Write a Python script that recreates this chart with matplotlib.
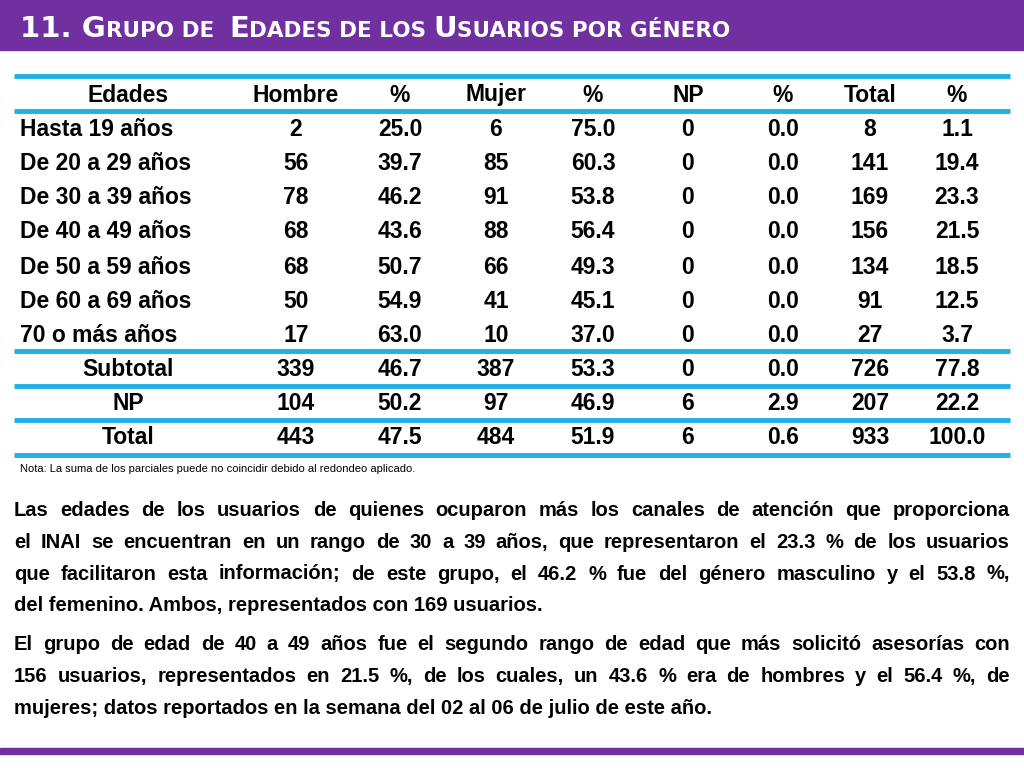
import matplotlib
matplotlib.use("Agg")
import matplotlib.pyplot as plt
from matplotlib import font_manager as fm

names = {f.name for f in fm.fontManager.ttflist}
FONT = "Liberation Sans Narrow" if "Liberation Sans Narrow" in names else "Liberation Sans"

headers = ["Edades", "Hombre", "%", "Mujer", "%", "NP", "%", "Total", "%"]
age_groups = ["Hasta 19 años", "De 20 a 29 años", "De 30 a 39 años", "De 40 a 49 años",
              "De 50 a 59 años", "De 60 a 69 años", "70 o más años"]
summary_rows = ["Subtotal", "NP", "Total"]
hombre = [2, 56, 78, 68, 68, 50, 17, 339, 104, 443]
hombre_pct = [25.0, 39.7, 46.2, 43.6, 50.7, 54.9, 63.0, 46.7, 50.2, 47.5]
mujer = [6, 85, 91, 88, 66, 41, 10, 387, 97, 484]
mujer_pct = [75.0, 60.3, 53.8, 56.4, 49.3, 45.1, 37.0, 53.3, 46.9, 51.9]
np_n = [0, 0, 0, 0, 0, 0, 0, 0, 6, 6]
np_pct = [0.0, 0.0, 0.0, 0.0, 0.0, 0.0, 0.0, 0.0, 2.9, 0.6]
total = [8, 141, 169, 156, 134, 91, 27, 726, 207, 933]
total_pct = [1.1, 19.4, 23.3, 21.5, 18.5, 12.5, 3.7, 77.8, 22.2, 100.0]

W, H = 1024, 768
fig = plt.figure(figsize=(W/100, H/100), dpi=100)
ax = fig.add_axes([0, 0, 1, 1])
ax.set_xlim(0, W); ax.set_ylim(H, 0); ax.axis("off")

PURPLE = "#7030a0"
BLUE = "#1fb0e6"
ax.add_patch(plt.Rectangle((0, 0), W, 50, color=PURPLE))
ax.add_patch(plt.Rectangle((0, 748), W, 6, color=PURPLE))

renderer = fig.canvas.get_renderer()
pieces = [("11. G", 21), ("RUPO DE  ", 15.5), ("E", 21), ("DADES DE LOS ", 15.5), ("U", 21),
          ("SUARIOS POR GÉNERO", 15.5)]
x = 20
for txt, sz in pieces:
    t = ax.text(x, 37, txt, fontsize=sz, color="white", fontweight="bold",
                family="DejaVu Sans Condensed" if FONT != "Liberation Sans Narrow" else FONT,
                va="baseline", ha="left")
    bb = t.get_window_extent(renderer)
    x += bb.width

for y in [76, 111, 351, 386, 420, 455]:
    ax.plot([14, 1010], [y, y], color=BLUE, lw=3.5, solid_capstyle="butt")

col_x = [128, 296, 400, 496, 593, 688, 783, 870, 957]
row_y = [95, 129, 163, 198, 232, 267, 301, 335, 369, 403, 438]
FS = 16.5
def cell(x, y, s, ha="center"):
    ax.text(x, y + 6.5, s, ha=ha, va="baseline", fontsize=FS, fontweight="bold", family=FONT)

for cx, h in zip(col_x, headers):
    cell(cx, row_y[0], h)

labels = age_groups + summary_rows
cols = [hombre, hombre_pct, mujer, mujer_pct, np_n, np_pct, total, total_pct]
for i, lab in enumerate(labels):
    y = row_y[i + 1]
    if i < len(age_groups):
        cell(20, y, lab, ha="left")
    else:
        cell(col_x[0], y, lab)
    for j, col in enumerate(cols):
        v = col[i]
        s = f"{v:.1f}" if isinstance(v, float) else str(v)
        cell(col_x[j+1], y, s)

ax.text(20, 472, "Nota: La suma de los parciales puede no coincidir debido al redondeo aplicado.",
        ha="left", va="baseline", fontsize=8, family=FONT)

par1 = ["Las edades de los usuarios de quienes ocuparon más los canales de atención que proporciona",
        "el INAI se encuentran en un rango de 30 a 39 años, que representaron el 23.3 % de los usuarios",
        "que facilitaron esta información; de este grupo, el 46.2 % fue del género masculino y el 53.8 %,",
        "del femenino. Ambos, representados con 169 usuarios."]
par2 = ["El grupo de edad de 40 a 49 años fue el segundo rango de edad que más solicitó asesorías con",
        "156 usuarios, representados en 21.5 %, de los cuales, un 43.6 % era de hombres y el 56.4 %, de",
        "mujeres; datos reportados en la semana del 02 al 06 de julio de este año."]

def draw_par(lines, y0, dy=31.5, x0=14, x1=1010, fs=14.5):
    inv = ax.transData.inverted()
    for k, line in enumerate(lines):
        y = y0 + k*dy + 5.5
        words = line.split(" ")
        if k == len(lines) - 1:
            ax.text(x0, y, line, ha="left", va="baseline", fontsize=fs, fontweight="bold", family=FONT)
            continue
        ts = [ax.text(0, y, w, ha="left", va="baseline", fontsize=fs, fontweight="bold", family=FONT) for w in words]
        widths = []
        for t in ts:
            bb = t.get_window_extent(renderer)
            p0 = inv.transform((bb.x0, bb.y0)); p1 = inv.transform((bb.x1, bb.y0))
            widths.append(p1[0] - p0[0])
        gap = (x1 - x0 - sum(widths)) / max(len(words) - 1, 1)
        xx = x0
        for t, wdt in zip(ts, widths):
            t.set_x(xx)
            xx += wdt + gap

draw_par(par1, 511)
draw_par(par2, 645)

fig.savefig("out.png", dpi=100)
